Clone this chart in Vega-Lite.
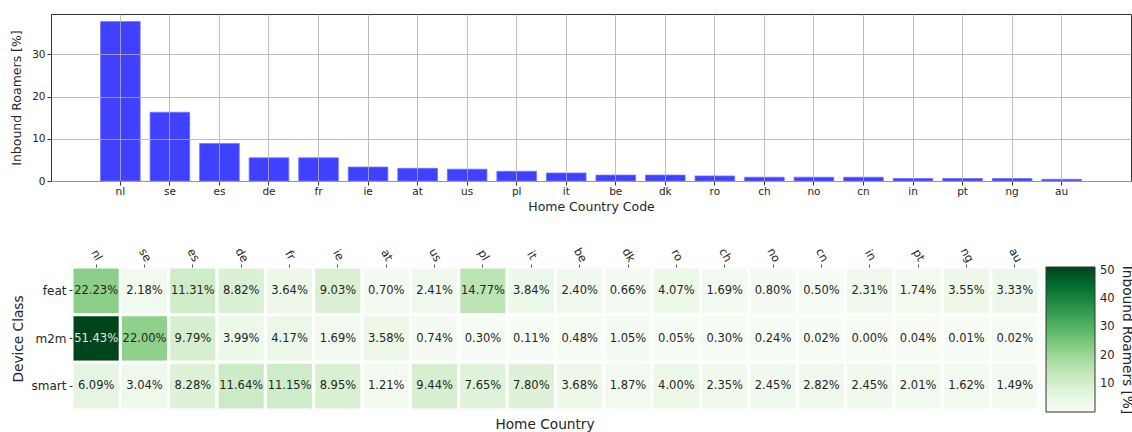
{
  "$schema": "https://vega.github.io/schema/vega-lite/v6.json",
  "padding": {"left": 10, "top": 13, "right": 0, "bottom": 0},
  "autosize": {"type": "pad"},
  "config": {
    "font": "DejaVu Sans",
    "view": {"stroke": null},
    "axis": {"labelColor": "#262626", "titleColor": "#262626", "tickColor": "#333", "titleFontWeight": "normal"},
    "legend": {"labelColor": "#262626", "titleColor": "#262626"}
  },
  "datasets": {
    "bars": [
      {"country": "nl", "pct": 37.8},
      {"country": "se", "pct": 16.3},
      {"country": "es", "pct": 8.9},
      {"country": "de", "pct": 5.5},
      {"country": "fr", "pct": 5.5},
      {"country": "ie", "pct": 3.3},
      {"country": "at", "pct": 3.0},
      {"country": "us", "pct": 2.8},
      {"country": "pl", "pct": 2.3},
      {"country": "it", "pct": 1.9},
      {"country": "be", "pct": 1.4},
      {"country": "dk", "pct": 1.4},
      {"country": "ro", "pct": 1.2},
      {"country": "ch", "pct": 0.9},
      {"country": "no", "pct": 0.9},
      {"country": "cn", "pct": 0.9},
      {"country": "in", "pct": 0.6},
      {"country": "pt", "pct": 0.6},
      {"country": "ng", "pct": 0.6},
      {"country": "au", "pct": 0.4}
    ],
    "heat": [
      {"country": "nl", "cls": "feat", "value": 22.23},
      {"country": "se", "cls": "feat", "value": 2.18},
      {"country": "es", "cls": "feat", "value": 11.31},
      {"country": "de", "cls": "feat", "value": 8.82},
      {"country": "fr", "cls": "feat", "value": 3.64},
      {"country": "ie", "cls": "feat", "value": 9.03},
      {"country": "at", "cls": "feat", "value": 0.70},
      {"country": "us", "cls": "feat", "value": 2.41},
      {"country": "pl", "cls": "feat", "value": 14.77},
      {"country": "it", "cls": "feat", "value": 3.84},
      {"country": "be", "cls": "feat", "value": 2.40},
      {"country": "dk", "cls": "feat", "value": 0.66},
      {"country": "ro", "cls": "feat", "value": 4.07},
      {"country": "ch", "cls": "feat", "value": 1.69},
      {"country": "no", "cls": "feat", "value": 0.80},
      {"country": "cn", "cls": "feat", "value": 0.50},
      {"country": "in", "cls": "feat", "value": 2.31},
      {"country": "pt", "cls": "feat", "value": 1.74},
      {"country": "ng", "cls": "feat", "value": 3.55},
      {"country": "au", "cls": "feat", "value": 3.33},
      {"country": "nl", "cls": "m2m", "value": 51.43},
      {"country": "se", "cls": "m2m", "value": 22.00},
      {"country": "es", "cls": "m2m", "value": 9.79},
      {"country": "de", "cls": "m2m", "value": 3.99},
      {"country": "fr", "cls": "m2m", "value": 4.17},
      {"country": "ie", "cls": "m2m", "value": 1.69},
      {"country": "at", "cls": "m2m", "value": 3.58},
      {"country": "us", "cls": "m2m", "value": 0.74},
      {"country": "pl", "cls": "m2m", "value": 0.30},
      {"country": "it", "cls": "m2m", "value": 0.11},
      {"country": "be", "cls": "m2m", "value": 0.48},
      {"country": "dk", "cls": "m2m", "value": 1.05},
      {"country": "ro", "cls": "m2m", "value": 0.05},
      {"country": "ch", "cls": "m2m", "value": 0.30},
      {"country": "no", "cls": "m2m", "value": 0.24},
      {"country": "cn", "cls": "m2m", "value": 0.02},
      {"country": "in", "cls": "m2m", "value": 0.00},
      {"country": "pt", "cls": "m2m", "value": 0.04},
      {"country": "ng", "cls": "m2m", "value": 0.01},
      {"country": "au", "cls": "m2m", "value": 0.02},
      {"country": "nl", "cls": "smart", "value": 6.09},
      {"country": "se", "cls": "smart", "value": 3.04},
      {"country": "es", "cls": "smart", "value": 8.28},
      {"country": "de", "cls": "smart", "value": 11.64},
      {"country": "fr", "cls": "smart", "value": 11.15},
      {"country": "ie", "cls": "smart", "value": 8.95},
      {"country": "at", "cls": "smart", "value": 1.21},
      {"country": "us", "cls": "smart", "value": 9.44},
      {"country": "pl", "cls": "smart", "value": 7.65},
      {"country": "it", "cls": "smart", "value": 7.80},
      {"country": "be", "cls": "smart", "value": 3.68},
      {"country": "dk", "cls": "smart", "value": 1.87},
      {"country": "ro", "cls": "smart", "value": 4.00},
      {"country": "ch", "cls": "smart", "value": 2.35},
      {"country": "no", "cls": "smart", "value": 2.45},
      {"country": "cn", "cls": "smart", "value": 2.82},
      {"country": "in", "cls": "smart", "value": 2.45},
      {"country": "pt", "cls": "smart", "value": 2.01},
      {"country": "ng", "cls": "smart", "value": 1.62},
      {"country": "au", "cls": "smart", "value": 1.49}
    ]
  },
  "resolve": {"scale": {"color": "independent"}, "legend": {"color": "independent"}},
  "vconcat": [
    {
      "width": 1080,
      "height": 167,
      "data": {"name": "bars"},
      "view": {"stroke": "#333", "strokeWidth": 1},
      "mark": {"type": "bar", "color": "#4040ff", "stroke": "#7373ff", "strokeWidth": 0.8},
      "encoding": {
        "x": {
          "field": "country", "type": "nominal", "sort": null,
          "scale": {"paddingInner": 0.2, "paddingOuter": 1},
          "axis": {
            "title": "Home Country Code", "titleFontSize": 12.5, "titlePadding": 4,
            "labelAngle": 0, "labelFontSize": 10.5, "labelPadding": 1,
            "grid": true, "gridColor": "#b0b0b0", "gridWidth": 0.8, "bandPosition": 0.5,
            "domain": false, "tickSize": 4, "zindex": 1
          }
        },
        "y": {
          "field": "pct", "type": "quantitative",
          "scale": {"domain": [0, 39.6], "nice": false},
          "axis": {
            "title": "Inbound Roamers [%]", "titleFontSize": 12.5, "titlePadding": 8,
            "values": [0, 10, 20, 30], "labelFontSize": 10.5, "labelPadding": 2,
            "grid": true, "gridColor": "#b0b0b0", "gridWidth": 0.8,
            "domain": false, "tickSize": 4, "zindex": 1
          }
        }
      }
    },
    {
      "width": 988,
      "height": 143,
      "data": {"name": "heat"},
      "title": {"text": "Home Country", "orient": "bottom", "fontSize": 13.7, "fontWeight": "normal", "color": "#262626", "offset": 3},
      "encoding": {
        "x": {
          "field": "country", "type": "nominal", "sort": null,
          "scale": {"paddingInner": 0, "paddingOuter": 0.217, "align": 1},
          "axis": {
            "orient": "top", "title": null, "labelAngle": 60, "labelFontSize": 11.5,
            "labelAlign": "center", "labelBaseline": "middle", "labelPadding": 9,
            "domain": false, "tickSize": 3, "tickColor": "#555"
          }
        },
        "y": {
          "field": "cls", "type": "nominal", "sort": ["feat", "m2m", "smart"],
          "axis": {
            "offset": -21,
            "title": "Device Class", "titleFontSize": 13.7, "titlePadding": 6,
            "labelFontSize": 12, "labelPadding": 3, "domain": false, "tickSize": 3, "tickColor": "#333"
          }
        }
      },
      "layer": [
        {
          "mark": {"type": "rect", "stroke": "white", "strokeWidth": 3},
          "encoding": {
            "color": {
              "field": "value", "type": "quantitative",
              "scale": {
                "domain": [0, 6.43, 12.86, 19.29, 25.72, 32.14, 38.57, 45.0, 51.43],
                "range": ["#f7fcf5", "#e5f5e0", "#c7e9c0", "#a1d99b", "#74c476", "#41ab5d", "#238b45", "#006d2c", "#00441b"]
              },
              "legend": {
                "title": "Inbound Roamers [%]", "titleOrient": "right", "titleAngle": 90,
                "titleFontSize": 13.7, "titleFontWeight": "normal",
                "gradientLength": 145, "gradientThickness": 49,
                "gradientStrokeColor": "#333", "gradientStrokeWidth": 1,
                "values": [10, 20, 30, 40, 50], "labelFontSize": 11.5, "labelOffset": 5,
                "offset": 7, "direction": "vertical"
              }
            }
          }
        },
        {
          "transform": [{"calculate": "format(datum.value, '.2f') + '%'", "as": "label"}],
          "mark": {"type": "text", "fontSize": 11.5},
          "encoding": {
            "text": {"field": "label", "type": "nominal"},
            "color": {"condition": {"test": "datum.value > 40", "value": "#e8e8e8"}, "value": "#262626"}
          }
        }
      ]
    }
  ],
  "spacing": 31
}
